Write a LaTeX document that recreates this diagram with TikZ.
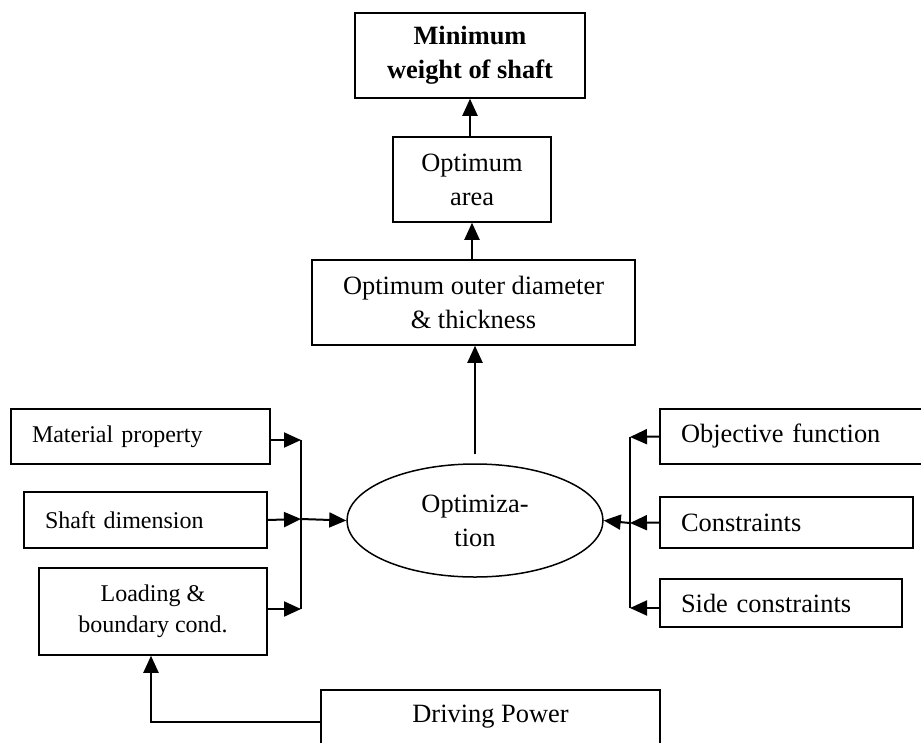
\documentclass[tikz,border=0pt]{standalone}
\usepackage{fontspec}
\setmainfont{Liberation Serif}
\usetikzlibrary{shapes.geometric,arrows.meta,calc}
\tikzset{
  box/.style={draw,line width=1.5pt,inner sep=0pt,align=center,font=\fontsize{26.4}{34}\selectfont},
  lbox/.style={draw,line width=1.5pt,inner ysep=0pt,inner xsep=21pt,align=left,font=\fontsize{24}{31}\selectfont},
  rbox/.style={draw,line width=1.5pt,inner ysep=0pt,inner xsep=21pt,align=left,font=\fontsize{26.4}{34}\selectfont},
  oval/.style={draw,ellipse,line width=1.5pt,inner sep=0pt,align=center,font=\fontsize{26.4}{34}\selectfont},
  arr/.style={line width=2pt,-{Triangle[length=17pt,width=15pt]}},
  bus/.style={line width=2pt}
}
\begin{document}
\begin{tikzpicture}[x=1pt,y=-1pt]
\useasboundingbox (0,0) rectangle (921,742);
\clip (0,0) rectangle (921,742);
% top chain
\node[box,minimum width=230pt,minimum height=85pt] (minw) at (470,55.5) {\textbf{Minimum}\\\textbf{weight of shaft}};
\node[box,minimum width=158pt,minimum height=85pt] (area) at (472,179.5) {Optimum\\area};
\node[box,minimum width=323pt,minimum height=85pt] (outer) at (473.5,302.5) {Optimum outer diameter\\\& thickness};
\node[oval,minimum width=256pt,minimum height=113pt] (opt) at (475,520.5) {Optimiza-\\tion};
% left boxes
\node[lbox,text width=217pt,minimum height=55pt] (mat) at (140.5,436.5) {Material property};
\node[lbox,text width=201pt,minimum height=56pt] (shaft) at (145.5,520) {Shaft dimension};
\node[box,font=\fontsize{24}{31}\selectfont,minimum width=228pt,minimum height=87pt] (load) at (153,611.5) {Loading \&\\boundary cond.};
% right boxes
\node[rbox,text width=233pt,minimum height=55pt] (obj) at (797.5,436.5) {Objective function};
\node[rbox,text width=211pt,minimum height=51pt] (cons) at (786.5,522.5) {Constraints};
\node[rbox,text width=200pt,minimum height=48pt] (side) at (781,603) {Side constraints};
% bottom
\node[box,minimum width=339pt,minimum height=54pt] (drive) at (490.5,717) {Driving Power};
% bus coordinates
\coordinate (lb1) at (301,440);
\coordinate (lb2) at (301,519);
\coordinate (lb3) at (301,609);
\coordinate (rb1) at (630,437);
\coordinate (rb2) at (630,523);
\coordinate (rb3) at (630,608);
% left connectors
\draw[arr] ([yshift=-3.5pt]mat.east) -- (lb1);
\draw[arr] (shaft.east) -- (lb2);
\draw[arr] ([yshift=2.5pt]load.east) -- (lb3);
\draw[bus] (lb1) -- (lb3);
\draw[arr] (lb2) -- (opt.west);
% right connectors
\draw[arr] (obj.west) -- (rb1);
\draw[arr] (cons.west) -- (rb2);
\draw[arr] ([yshift=-5pt]side.west) -- (rb3);
\draw[bus] (rb1) -- (rb3);
\draw[arr] (rb2) -- (opt.east);
% vertical chain
\draw[arr] ([yshift=9pt]opt.north) -- (opt.north |- outer.south);
\draw[arr] (outer.north -| area.south) -- (area.south);
\draw[arr] (area.north -| minw.south) -- (minw.south);
% driving power
\draw[arr] ([yshift=-5pt]drive.west) -| ([xshift=-2pt]load.south);
\end{tikzpicture}
\end{document}
